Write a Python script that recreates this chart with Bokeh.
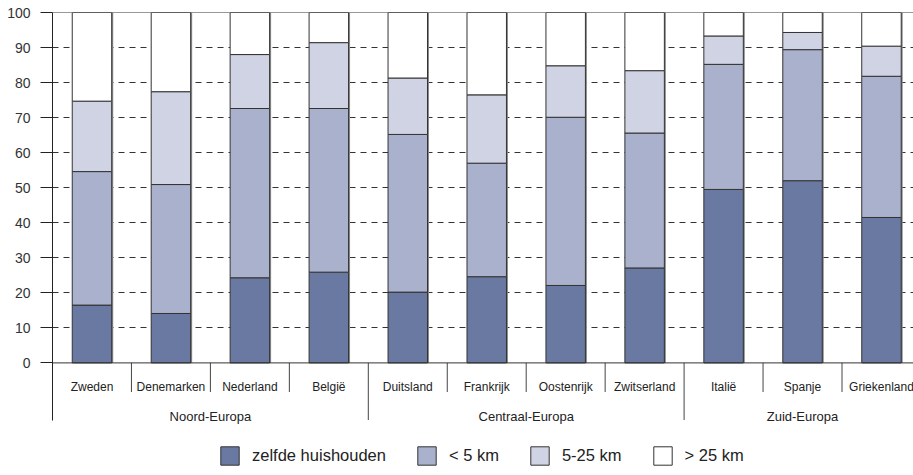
from bokeh.plotting import figure
from bokeh.models import Range1d, FixedTicker, Span, Legend, LegendItem, ColumnDataSource
from bokeh.core.properties import value
from bokeh.embed import file_html
from bokeh.resources import INLINE

# ---- data ----
countries = ["Zweden", "Denemarken", "Nederland", "België", "Duitsland", "Frankrijk",
             "Oostenrijk", "Zwitserland", "Italië", "Spanje", "Griekenland"]
groups = ["Noord-Europa", "Centraal-Europa", "Zuid-Europa"]
group_sizes = [4, 4, 3]
series_names = ["zelfde huishouden", "< 5 km", "5-25 km", "> 25 km"]
zelfde = [16.5, 14.1, 24.3, 25.9, 20.2, 24.6, 22.1, 27.1, 49.5, 52.0, 41.5]
lt5 = [38.1, 36.8, 48.3, 46.7, 45.0, 32.4, 48.0, 38.5, 35.7, 37.4, 40.3]
km5_25 = [20.1, 26.5, 15.4, 18.8, 16.1, 19.5, 14.7, 17.8, 8.1, 4.9, 8.6]
gt25 = [25.3, 22.6, 12.0, 8.6, 18.7, 23.5, 15.2, 16.6, 6.7, 5.7, 9.6]
y_ticks = [0, 10, 20, 30, 40, 50, 60, 70, 80, 90, 100]

colors = ["#6a79a1", "#a9b1cc", "#d0d3e3", "#ffffff"]
FONT = "Liberation Sans"

# ---- layout ----
W, H = 913, 475
left, top = 52, 12
k = 3.504                      # px per unit
frame_h = H - top
ymin = 100 - frame_h / k
cat_px = 78.95
frame_w = W - left
xmax = -0.5 + frame_w / cat_px

n = len(countries)
idx = list(range(n))
keys = ["s0", "s1", "s2", "s3"]
totals = [a + b + c + d for a, b, c, d in zip(zelfde, lt5, km5_25, gt25)]
src = ColumnDataSource(dict(x=idx, s0=zelfde, s1=lt5, s2=km5_25, s3=gt25))

p = figure(width=W, height=H, output_backend="svg", toolbar_location=None,
           x_range=Range1d(-0.5, xmax), y_range=Range1d(ymin, 100),
           x_axis_location=None, min_border_left=left, min_border_right=0,
           min_border_top=top, min_border_bottom=0)
p.outline_line_color = None
p.background_fill_color = "white"
p.xgrid.visible = False

# y axis
yax = p.yaxis[0]
yax.ticker = FixedTicker(ticks=y_ticks)
yax.bounds = (-16.3, 100)
yax.major_tick_out = 12
yax.major_tick_in = 0
yax.minor_tick_line_color = None
yax.axis_line_color = "#222222"
yax.major_tick_line_color = "#222222"
yax.major_label_standoff = 10
yax.major_label_text_font = FONT
yax.major_label_text_font_size = "14px"
yax.major_label_text_color = "#333333"

p.ygrid.ticker = FixedTicker(ticks=y_ticks[1:-1])
p.ygrid.grid_line_color = "#333333"
p.ygrid.grid_line_dash = "6 5"
p.ygrid.grid_line_width = 1

# subtle grey shadow on the right edge of each bar
shadow_dx = 1.5 / cat_px
p.vbar(x=[i + shadow_dx for i in idx], top=totals, bottom=0, width=0.5,
       fill_color="#8a8a8a", line_color=None)

renderers = p.vbar_stack(keys, x="x", width=0.5, source=src, fill_color=colors,
                         line_color="#333333", line_width=1)

p.add_layout(Span(location=0, dimension="width", line_color="#333333", line_width=1))
p.add_layout(Span(location=100, dimension="width", line_color="#333333", line_width=1))

# category labels
p.text(x=idx, y=[-6.8] * n, text=countries, text_align="center", text_baseline="middle",
       text_font=value(FONT), text_font_size="12px", text_color="#222222")

# separators
bx_short, bx_long, centers = [], [], []
start = 0
for gi, size in enumerate(group_sizes):
    centers.append(start + (size - 1) / 2)
    for j in range(size - 1):
        bx_short.append(start + j + 0.5)
    start += size
    if gi < len(group_sizes) - 1:
        bx_long.append(start - 0.5)
p.segment(x0=bx_short, y0=[0] * len(bx_short), x1=bx_short, y1=[-8.3] * len(bx_short),
          line_color="#444444", line_width=1)
p.segment(x0=bx_long, y0=[0] * len(bx_long), x1=bx_long, y1=[-16.3] * len(bx_long),
          line_color="#444444", line_width=1)
p.text(x=centers, y=[-15.3] * len(centers), text=groups, text_align="center",
       text_baseline="middle", text_font=value(FONT), text_font_size="13px",
       text_color="#222222")

legend = Legend(items=[LegendItem(label=nm, renderers=[r]) for nm, r in zip(series_names, renderers)],
                orientation="horizontal", location=(166, 8), padding=0, margin=0,
                spacing=29, label_standoff=11, glyph_width=23, glyph_height=23,
                label_height=23, border_line_color=None, background_fill_alpha=0,
                label_text_font=FONT, label_text_font_size="16.5px",
                label_text_color="#222222")
p.add_layout(legend)

open("out.html", "w").write(file_html(p, INLINE))
